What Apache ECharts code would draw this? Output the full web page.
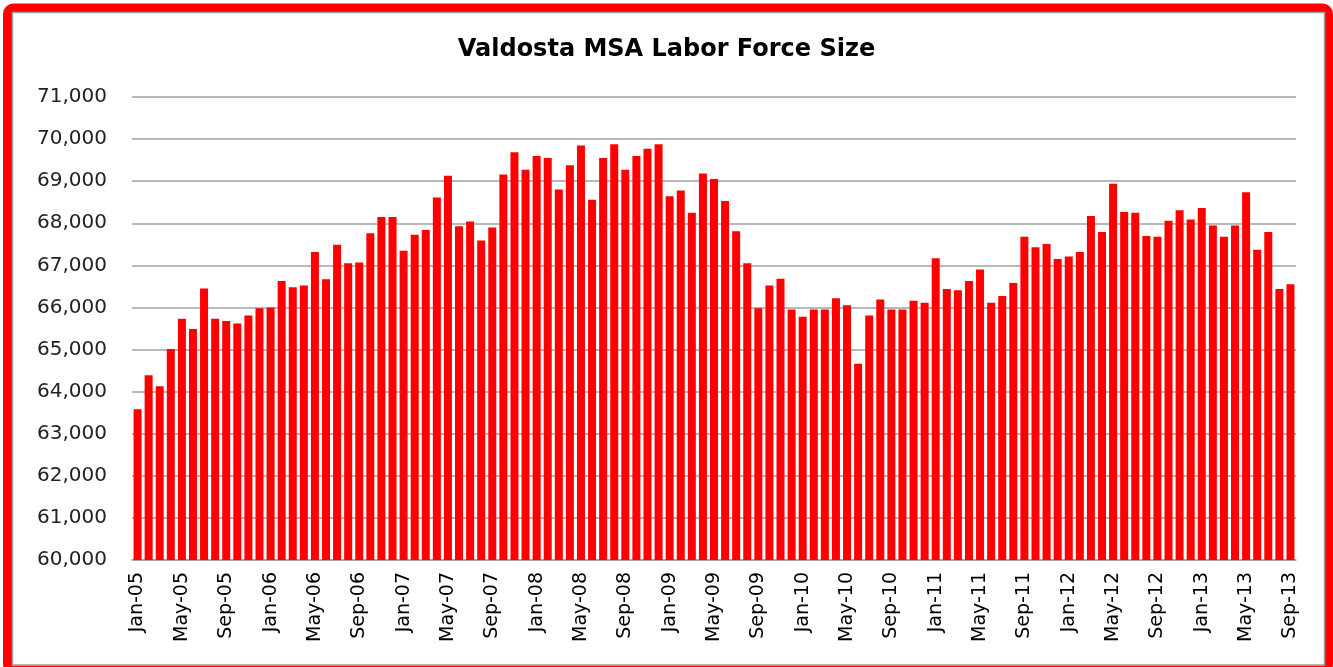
<!DOCTYPE html>
<html>
<head>
<meta charset="utf-8">
<style>
  html, body { margin: 0; padding: 0; background: #fff; }
  #chart { width: 1333px; height: 667px; }
</style>
<script src="https://cdn.jsdelivr.net/npm/echarts@6/dist/echarts.min.js"></script>
</head>
<body>
<div id="chart"></div>
<script>
// monthly labour force, Jan-05 .. Sep-13
const years = ['05', '06', '07', '08', '09', '10', '11', '12', '13']
const monthNames = ['Jan', 'Feb', 'Mar', 'Apr', 'May', 'Jun', 'Jul', 'Aug', 'Sep', 'Oct', 'Nov', 'Dec']

const laborForce = [
  63580, 64390, 64130, 65010, 65730, 65490, 66450, 65730, 65680, 65620, 65810, 65980, // 2005
  66000, 66630, 66480, 66520, 67320, 66670, 67490, 67050, 67070, 67760, 68150, 68150, // 2006
  67350, 67730, 67840, 68610, 69130, 67930, 68040, 67590, 67900, 69160, 69690, 69270, // 2007
  69600, 69550, 68800, 69380, 69850, 68560, 69550, 69880, 69270, 69600, 69770, 69880, // 2008
  68640, 68780, 68250, 69180, 69050, 68530, 67810, 67050, 65980, 66520, 66680, 65950, // 2009
  65780, 65950, 65950, 66220, 66050, 64660, 65810, 66190, 65950, 65950, 66160, 66110, // 2010
  67170, 66440, 66410, 66630, 66900, 66110, 66270, 66580, 67680, 67430, 67510, 67150, // 2011
  67210, 67320, 68170, 67790, 68940, 68270, 68250, 67700, 67680, 68060, 68310, 68090, // 2012
  68360, 67950, 67680, 67950, 68740, 67370, 67790, 66440, 66550                       // 2013
]

const months = []
years.forEach(y => {
  monthNames.forEach(m => months.push(m + '-' + y))
})
months.length = laborForce.length

const chart = echarts.init(document.getElementById('chart'))
chart.setOption({
  animation: false,
  backgroundColor: '#fff',
  title: {
    text: 'Valdosta MSA Labor Force Size',
    left: 'center',
    top: 33,
    textStyle: {
      fontFamily: 'DejaVu Sans',
      fontWeight: 'bold',
      fontSize: 24,
      color: '#000'
    }
  },
  graphic: [
    {
      type: 'rect',
      shape: { x: 7.5, y: 8, width: 1321, height: 662, r: 6 },
      style: { fill: 'none', stroke: '#ff0000', lineWidth: 9 }
    },
    {
      type: 'rect',
      shape: { x: 12.5, y: 12.5, width: 1312, height: 652.5 },
      style: { fill: 'none', stroke: '#a0a0a0', lineWidth: 1.5 }
    }
  ],
  grid: {
    left: 132,
    right: 37,
    top: 97,
    bottom: 107
  },
  xAxis: {
    type: 'category',
    data: months,
    axisTick: { show: false },
    axisLine: { lineStyle: { color: '#a0a0a0', width: 1.5 } },
    axisLabel: {
      interval: 3,
      rotate: 90,
      margin: 12,
      fontFamily: 'DejaVu Sans',
      fontSize: 19,
      color: '#000'
    }
  },
  yAxis: {
    type: 'value',
    min: 60000,
    max: 71000,
    interval: 1000,
    axisLine: { show: false },
    axisTick: { show: false },
    splitLine: { lineStyle: { color: '#a0a0a0', width: 1.5 } },
    axisLabel: {
      margin: 25,
      fontFamily: 'DejaVu Sans',
      fontSize: 20,
      color: '#222',
      formatter: v => v.toLocaleString('en-US')
    }
  },
  series: [{
    name: 'Labor Force',
    type: 'bar',
    data: laborForce,
    barWidth: 8,
    itemStyle: { color: '#ff0000' }
  }]
})
</script>
</body>
</html>
